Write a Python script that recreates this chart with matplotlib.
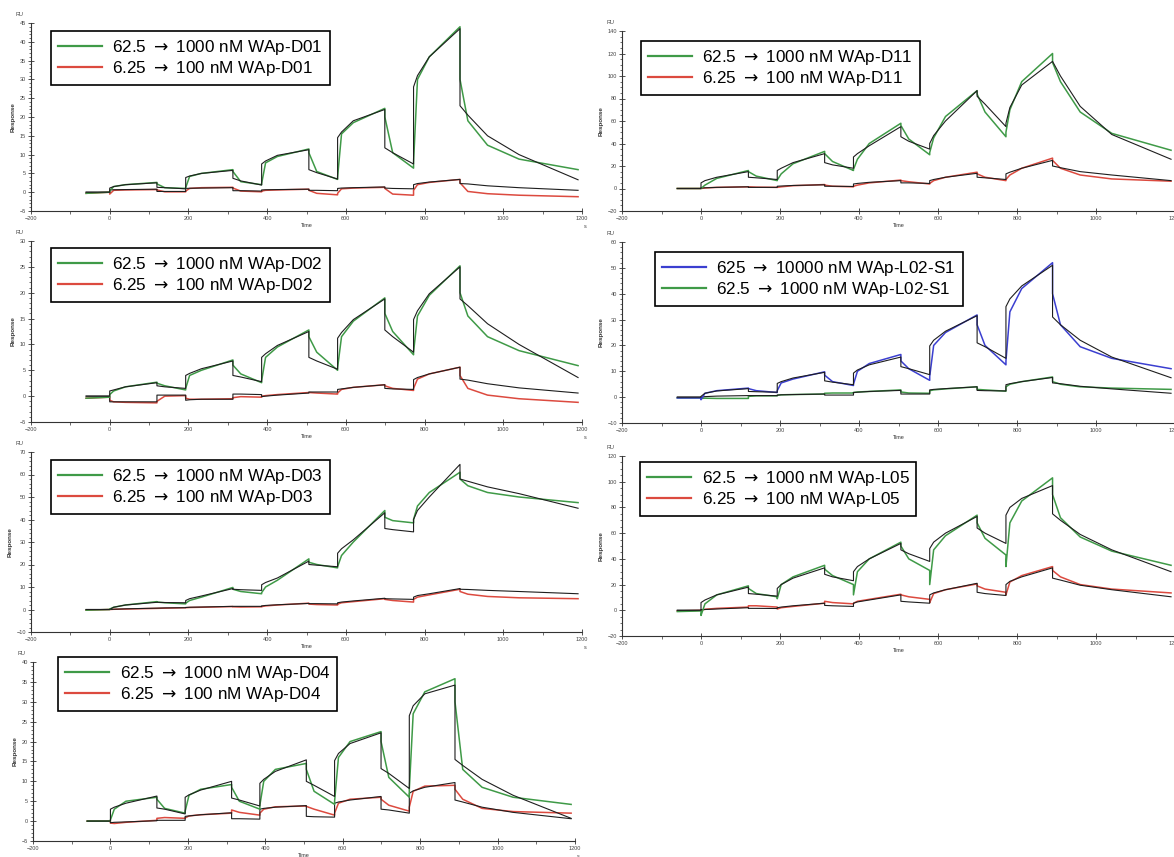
import matplotlib.pyplot as plt
from matplotlib.lines import Line2D
from matplotlib.ticker import MultipleLocator

plt.rcParams['font.family'] = ['Liberation Sans', 'DejaVu Sans']
plt.rcParams['mathtext.fontset'] = 'dejavusans'

# Shared time base (s) for every single-cycle sensorgram.
# Repeated times mark the injection start / stop steps.
TIME = [-60,
        0, 0, 10, 40, 120, 120, 140,
        193, 193, 203, 233, 313, 313, 333,
        386, 386, 396, 426, 506, 506, 526,
        579, 579, 589, 619, 699, 699, 719,
        772, 772, 782, 812, 890, 890, 910, 960, 1040, 1190]

# WAp-D01
D01_HI = [-0.3,
          0.0, 0.3, 1.5, 2.0, 2.6, 2.2, 1.2,
          1.0, 1.2, 4.2, 5.0, 6.0, 5.5, 2.8,
          2.0, 2.3, 7.8, 9.5, 11.5, 10.5, 5.5,
          3.4, 4.0, 15.5, 18.5, 22.3, 20.0, 10.5,
          6.4, 8.0, 30.0, 36.0, 44.0, 30.0, 19.0, 12.5, 8.8, 6.0]
D01_HI_FIT = [0.0,
              0.0, 1.1, 1.5, 2.0, 2.5, 1.3, 1.2,
              0.9, 3.9, 4.3, 5.0, 5.8, 3.7, 3.0,
              1.9, 7.5, 8.3, 9.8, 11.3, 6.0, 5.2,
              3.5, 14.5, 16.0, 19.0, 22.0, 11.8, 10.5,
              7.5, 28.0, 31.0, 36.0, 43.5, 23.0, 20.5, 15.0, 10.0, 3.3]
D01_LO = [-0.3,
          0.0, -0.5, 0.5, 0.6, 0.7, 0.6, 0.1,
          0.1, 0.3, 1.0, 1.2, 1.3, 1.1, 0.3,
          0.1, 0.3, 0.5, 0.6, 0.8, 0.5, -0.3,
          -0.7, -0.3, 0.9, 1.1, 1.3, 1.0, -0.5,
          -0.8, 0.5, 2.0, 2.6, 3.4, 2.5, 0.2, -0.4, -0.8, -1.2]
D01_LO_FIT = [0.0,
              0.0, 0.6, 0.65, 0.7, 0.8, 0.2, 0.2,
              0.2, 1.0, 1.05, 1.1, 1.2, 0.4, 0.4,
              0.3, 0.6, 0.65, 0.7, 0.8, 0.5, 0.5,
              0.4, 1.0, 1.1, 1.2, 1.4, 1.1, 1.0,
              0.9, 2.0, 2.3, 2.7, 3.4, 2.3, 2.2, 1.7, 1.2, 0.5]

# WAp-D11
D11_HI = [0.0,
          0.0, 0.0, 3.0, 9.0, 16.0, 15.0, 11.0,
          7.0, 7.5, 13.0, 22.0, 33.0, 31.0, 24.0,
          16.0, 17.0, 26.0, 40.0, 58.0, 56.0, 44.0,
          30.0, 32.0, 45.0, 64.0, 87.0, 84.0, 68.0,
          46.0, 50.0, 70.0, 95.0, 120.0, 112.0, 95.0, 68.0, 49.0, 34.0]
D11_HI_FIT = [0.0,
              0.0, 5.0, 7.0, 10.0, 15.0, 10.0, 9.5,
              8.0, 16.0, 18.0, 23.0, 31.0, 23.0, 21.0,
              18.0, 28.0, 31.0, 38.0, 55.0, 46.0, 42.0,
              35.0, 40.0, 47.0, 60.0, 87.0, 82.0, 75.0,
              55.0, 58.0, 72.0, 92.0, 113.0, 113.0, 100.0, 73.0, 48.0, 26.0]
D11_LO = [0.0,
          0.0, 0.0, 0.5, 1.0, 1.5, 1.5, 1.2,
          1.0, 1.0, 1.5, 2.5, 3.5, 3.0, 2.0,
          1.5, 2.0, 3.0, 5.0, 7.5, 7.0, 6.0,
          4.0, 4.5, 7.0, 10.0, 14.5, 13.0, 10.0,
          7.0, 8.0, 12.0, 18.0, 27.0, 25.0, 18.0, 12.0, 8.5, 6.5]
D11_LO_FIT = [0.0,
              0.0, 0.5, 0.6, 1.0, 1.5, 1.0, 1.0,
              1.0, 2.0, 2.2, 2.7, 3.3, 2.0, 2.0,
              1.8, 4.0, 4.5, 5.5, 7.0, 5.0, 5.0,
              4.5, 7.0, 8.0, 10.0, 13.5, 10.0, 9.5,
              8.0, 13.0, 14.5, 18.0, 25.0, 20.0, 18.5, 15.0, 12.0, 7.0]

# WAp-D02
D02_HI = [-0.4,
          -0.2, 0.3, 1.0, 1.8, 2.7, 2.5, 2.0,
          1.2, 1.5, 4.0, 5.0, 7.0, 6.0, 4.3,
          2.6, 3.0, 7.5, 9.5, 12.8, 11.5, 8.5,
          5.0, 5.5, 11.5, 14.5, 19.0, 16.0, 12.5,
          8.0, 8.5, 15.5, 19.5, 25.2, 20.0, 15.5, 11.5, 8.8, 5.9]
D02_HI_FIT = [0.0,
              0.0, 1.0, 1.2, 1.8, 2.6, 2.0, 1.8,
              1.5, 4.0, 4.4, 5.3, 6.8, 4.0, 3.7,
              2.8, 7.5, 8.2, 9.8, 12.5, 7.5, 6.8,
              5.2, 11.2, 12.3, 14.8, 18.8, 12.8, 11.5,
              8.5, 14.8, 16.5, 19.8, 25.0, 18.8, 17.5, 14.0, 10.0, 3.6]
D02_LO = [-0.4,
          -0.2, -0.8, -1.1, -1.2, -1.3, -1.0, 0.0,
          0.1, -0.4, -0.6, -0.6, -0.5, -0.3, -0.1,
          -0.2, 0.0, 0.1, 0.3, 0.7, 0.7, 0.6,
          0.4, 0.6, 1.3, 1.7, 2.2, 2.0, 1.5,
          1.1, 1.5, 3.3, 4.3, 5.6, 4.0, 1.5, 0.2, -0.5, -1.2]
D02_LO_FIT = [0.0,
              0.0, -1.1, -1.1, -1.1, -1.1, 0.2, 0.2,
              0.2, -0.8, -0.7, -0.6, -0.6, 0.4, 0.4,
              0.3, -0.1, 0.0, 0.2, 0.6, 0.8, 0.8,
              0.8, 1.3, 1.4, 1.7, 2.2, 1.5, 1.4,
              1.3, 3.2, 3.6, 4.3, 5.6, 3.3, 3.1, 2.4, 1.6, 0.6]

# WAp-L02-S1
L02_HI = [-0.3,
          -0.3, -1.0, 1.5, 2.5, 3.5, 3.3, 2.5,
          1.8, 2.5, 5.5, 7.0, 9.8, 8.5, 6.0,
          4.5, 5.0, 10.0, 13.0, 16.5, 14.0, 11.0,
          6.5, 8.0, 20.0, 25.0, 31.8, 28.0, 20.0,
          12.5, 14.0, 33.0, 42.0, 52.0, 40.0, 28.0, 19.5, 15.0, 11.0]
L02_HI_FIT = [0.0,
              0.0, 0.3, 1.5, 2.4, 3.3, 2.2, 2.1,
              1.9, 5.3, 6.0, 7.4, 9.6, 6.3, 5.8,
              4.8, 9.3, 10.5, 12.5, 15.5, 11.8, 11.0,
              8.7, 19.8, 22.0, 25.5, 31.5, 21.0, 19.5,
              15.0, 35.0, 38.0, 43.0, 51.0, 31.0, 28.0, 22.0, 15.5, 7.5]
L02_LO = [-0.3,
          -0.3, -0.5, -0.4, -0.5, -0.5, 0.3, 0.5,
          0.5, 0.7, 0.9, 1.0, 1.2, 1.5, 1.6,
          1.6, 1.8, 2.0, 2.2, 2.8, 2.0, 1.6,
          1.5, 2.5, 2.8, 3.2, 4.0, 3.0, 2.8,
          2.3, 4.0, 5.0, 6.0, 7.8, 6.0, 5.0, 4.0, 3.5, 3.0]
L02_LO_FIT = [0.0,
              0.0, 0.0, 0.2, 0.4, 0.6, 0.6, 0.6,
              0.6, 0.8, 0.9, 1.0, 1.2, 0.8, 0.8,
              0.8, 1.8, 1.9, 2.2, 2.6, 1.2, 1.2,
              1.2, 2.8, 3.0, 3.3, 4.0, 2.6, 2.5,
              2.4, 4.8, 5.2, 6.0, 7.6, 5.5, 5.2, 4.2, 3.2, 1.5]

# WAp-D03
D03_HI = [-0.3,
          0.0, 0.2, 1.0, 2.0, 3.5, 3.3, 3.0,
          2.5, 2.8, 4.0, 5.5, 9.8, 9.0, 8.0,
          7.0, 7.5, 10.0, 13.0, 22.5, 21.0, 20.0,
          18.5, 19.0, 24.0, 30.0, 44.0, 41.0, 39.5,
          38.5, 40.0, 46.0, 52.0, 61.0, 58.0, 55.0, 52.0, 50.0, 47.5]
D03_HI_FIT = [0.0,
              0.0, 0.0, 1.0, 2.0, 3.2, 3.2, 3.1,
              3.0, 4.0, 4.8, 6.0, 9.3, 9.0, 8.8,
              8.5, 11.0, 12.0, 14.0, 21.5, 20.0, 19.7,
              19.0, 25.0, 27.0, 31.0, 43.0, 36.0, 35.5,
              34.5, 40.0, 44.0, 50.0, 64.5, 58.0, 57.0, 54.5, 51.5, 45.0]
D03_LO = [-0.3,
          0.0, 0.0, 0.1, 0.2, 0.5, 0.5, 0.6,
          0.8, 0.8, 0.9, 1.0, 1.3, 1.2, 1.1,
          1.2, 1.3, 1.6, 2.0, 2.8, 2.4, 2.2,
          2.0, 2.4, 3.0, 3.5, 4.8, 4.5, 4.0,
          3.3, 4.5, 5.5, 6.5, 9.0, 8.0, 6.8, 5.8, 5.2, 4.8]
D03_LO_FIT = [0.0,
              0.0, 0.0, 0.1, 0.3, 0.6, 0.6, 0.7,
              0.8, 0.9, 1.0, 1.1, 1.4, 1.4, 1.4,
              1.4, 1.6, 1.8, 2.1, 2.7, 2.6, 2.6,
              2.5, 3.0, 3.3, 3.8, 5.0, 4.8, 4.7,
              4.5, 5.5, 6.2, 7.0, 9.3, 9.0, 8.9, 8.5, 8.0, 7.0]

# WAp-L05
L05_HI = [-1.0,
          -0.5, -4.0, 5.0, 12.0, 19.0, 17.0, 13.0,
          10.5, 9.0, 20.0, 26.0, 35.0, 32.0, 27.0,
          20.0, 12.0, 30.0, 40.0, 53.0, 50.0, 40.0,
          31.0, 20.0, 47.0, 58.0, 74.0, 68.0, 56.0,
          43.0, 34.0, 68.0, 85.0, 103.0, 90.0, 72.0, 57.0, 46.0, 35.0]
L05_HI_FIT = [0.0,
              0.0, 6.0, 8.0, 12.0, 18.0, 13.0, 12.5,
              11.0, 17.0, 20.0, 25.0, 33.0, 28.0, 26.0,
              23.0, 30.0, 34.0, 40.0, 52.0, 47.0, 44.0,
              38.0, 48.0, 53.0, 60.0, 73.0, 64.0, 60.0,
              52.0, 74.0, 80.0, 87.0, 97.0, 75.0, 70.0, 59.0, 47.0, 30.0]
L05_LO = [-0.5,
          0.0, 0.0, 0.8, 1.5, 2.5, 3.5, 3.5,
          2.5, 1.0, 2.0, 3.0, 5.5, 7.0, 6.0,
          5.0, 5.5, 7.0, 8.5, 12.5, 12.0, 10.5,
          8.5, 6.0, 13.0, 16.0, 20.5, 19.0, 16.5,
          14.0, 12.0, 22.0, 27.0, 34.0, 31.0, 26.0, 20.0, 16.5, 13.5]
L05_LO_FIT = [0.0,
              0.0, 0.5, 0.6, 1.0, 2.0, 1.5, 1.5,
              1.4, 2.0, 2.5, 3.5, 5.5, 3.8, 3.5,
              3.0, 5.5, 6.5, 8.0, 12.0, 7.0, 6.5,
              5.5, 12.0, 13.5, 16.0, 21.0, 14.0, 13.0,
              11.5, 20.0, 22.5, 26.0, 33.0, 25.0, 23.5, 19.5, 16.0, 10.5]

# WAp-D04
D04_HI = [0.0,
          0.0, 0.3, 3.0, 5.0, 6.0, 5.5, 3.2,
          2.0, 2.5, 6.5, 8.0, 9.2, 8.5, 5.0,
          3.0, 4.0, 10.0, 13.0, 14.5, 13.0, 7.5,
          4.2, 5.0, 16.0, 20.0, 22.5, 20.0, 11.0,
          6.0, 8.0, 27.0, 32.5, 35.8, 30.0, 13.0, 8.5, 6.0, 4.2]
D04_HI_FIT = [0.0,
              0.0, 3.0, 3.5, 4.5, 6.3, 3.3, 3.0,
              1.8, 6.0, 6.6, 7.8, 10.0, 5.8, 5.3,
              3.8, 9.5, 10.5, 12.5, 15.4, 10.0, 9.0,
              6.2, 15.2, 17.0, 19.5, 22.2, 13.2, 12.0,
              8.2, 26.5, 29.0, 32.0, 34.2, 15.5, 14.0, 10.5, 6.5, 0.7]
D04_LO = [0.0,
          0.0, -0.5, -0.6, -0.3, 0.2, 0.7, 0.9,
          0.7, 0.8, 1.3, 1.6, 2.0, 2.8, 2.2,
          1.5, 2.0, 3.0, 3.6, 3.8, 3.7, 3.0,
          1.5, 2.0, 4.5, 5.5, 6.0, 5.5, 4.0,
          2.5, 3.5, 7.5, 8.8, 9.0, 8.0, 5.5, 3.2, 2.4, 2.0]
D04_LO_FIT = [0.0,
              0.0, -0.4, -0.3, -0.2, 0.1, 0.2, 0.2,
              0.2, 1.2, 1.3, 1.6, 2.1, 0.6, 0.6,
              0.5, 3.0, 3.2, 3.5, 3.9, 1.2, 1.1,
              1.0, 4.5, 4.8, 5.3, 6.2, 3.0, 2.8,
              2.0, 7.0, 7.6, 8.5, 9.7, 5.3, 4.8, 3.5, 2.2, 0.6]

GREEN = '#3f9a47'
RED = '#dc4a3f'
BLUE = '#3b3fd0'
FIT = '#1e1e1e'

ARROW = r'$\rightarrow$'

W, H = 1174, 857

# axes box (left, top, right, bottom) and legend corner, in pixels
panels = [
    dict(hi=D01_HI, hi_fit=D01_HI_FIT, lo=D01_LO, lo_fit=D01_LO_FIT,
         labels=[f'62.5 {ARROW} 1000 nM WAp-D01', f'6.25 {ARROW} 100 nM WAp-D01'],
         colors=(GREEN, RED), ylim=(-5, 45), major=5, minor=1,
         box=(31, 23, 582, 211), legend=(51, 31), unit=True),
    dict(hi=D11_HI, hi_fit=D11_HI_FIT, lo=D11_LO, lo_fit=D11_LO_FIT,
         labels=[f'62.5 {ARROW} 1000 nM WAp-D11', f'6.25 {ARROW} 100 nM WAp-D11'],
         colors=(GREEN, RED), ylim=(-20, 140), major=20, minor=5,
         box=(622, 31, 1175, 211), legend=(641, 41), unit=False),
    dict(hi=D02_HI, hi_fit=D02_HI_FIT, lo=D02_LO, lo_fit=D02_LO_FIT,
         labels=[f'62.5 {ARROW} 1000 nM WAp-D02', f'6.25 {ARROW} 100 nM WAp-D02'],
         colors=(GREEN, RED), ylim=(-5, 30), major=5, minor=1,
         box=(31, 241, 582, 422), legend=(51, 248), unit=True),
    dict(hi=L02_HI, hi_fit=L02_HI_FIT, lo=L02_LO, lo_fit=L02_LO_FIT,
         labels=[f'625 {ARROW} 10000 nM WAp-L02-S1', f'62.5 {ARROW} 1000 nM WAp-L02-S1'],
         colors=(BLUE, GREEN), ylim=(-10, 60), major=10, minor=2,
         box=(622, 242, 1175, 423), legend=(655, 252), unit=False),
    dict(hi=D03_HI, hi_fit=D03_HI_FIT, lo=D03_LO, lo_fit=D03_LO_FIT,
         labels=[f'62.5 {ARROW} 1000 nM WAp-D03', f'6.25 {ARROW} 100 nM WAp-D03'],
         colors=(GREEN, RED), ylim=(-10, 70), major=10, minor=2,
         box=(31, 452, 582, 632), legend=(51, 460), unit=True),
    dict(hi=L05_HI, hi_fit=L05_HI_FIT, lo=L05_LO, lo_fit=L05_LO_FIT,
         labels=[f'62.5 {ARROW} 1000 nM WAp-L05', f'6.25 {ARROW} 100 nM WAp-L05'],
         colors=(GREEN, RED), ylim=(-20, 120), major=20, minor=5,
         box=(622, 456, 1175, 636), legend=(640, 462), unit=False),
    dict(hi=D04_HI, hi_fit=D04_HI_FIT, lo=D04_LO, lo_fit=D04_LO_FIT,
         labels=[f'62.5 {ARROW} 1000 nM WAp-D04', f'6.25 {ARROW} 100 nM WAp-D04'],
         colors=(GREEN, RED), ylim=(-5, 40), major=5, minor=1,
         box=(33, 662, 575, 841), legend=(58, 657), unit=True),
]


def draw_panel(fig, p):
    x0, y0, x1, y1 = p['box']
    ax = fig.add_axes([x0 / W, 1 - y1 / H, (x1 - x0) / W, (y1 - y0) / H])
    hi_col, lo_col = p['colors']

    ax.plot(TIME, p['lo'], color=lo_col, lw=1.1)
    ax.plot(TIME, p['lo_fit'], color=FIT, lw=0.8)
    ax.plot(TIME, p['hi'], color=hi_col, lw=1.1)
    ax.plot(TIME, p['hi_fit'], color=FIT, lw=0.8)

    ax.set_xlim(-200, 1200)
    ax.set_ylim(*p['ylim'])
    ax.xaxis.set_major_locator(MultipleLocator(200))
    ax.xaxis.set_minor_locator(MultipleLocator(100))
    ax.yaxis.set_major_locator(MultipleLocator(p['major']))
    ax.yaxis.set_minor_locator(MultipleLocator(p['minor']))
    for side in ('top', 'right'):
        ax.spines[side].set_visible(False)
    for side in ('left', 'bottom'):
        ax.spines[side].set_linewidth(0.8)
        ax.spines[side].set_color('#333333')
    ax.tick_params(which='major', direction='inout', length=4, width=0.6,
                   labelsize=4, pad=1.5, color='#333333', labelcolor='#444444')
    ax.tick_params(which='minor', direction='out', length=1.8, width=0.5,
                   color='#333333')
    ax.patch.set_alpha(0)

    ax.set_xlabel('Time', fontsize=4, labelpad=1.5, color='#333333')
    ax.set_ylabel('Response', fontsize=4.5, fontweight='bold', labelpad=3,
                  color='#333333')
    ax.annotate('RU', xy=(0, 1), xycoords='axes fraction', xytext=(-11, 5),
                textcoords='offset points', fontsize=4, color='#444444')
    # time unit sits past the right end of the axis; only the left column has room
    if p['unit']:
        ax.annotate('s', xy=(1, 0), xycoords='axes fraction', xytext=(1, -12),
                    textcoords='offset points', fontsize=4, color='#444444')

    handles = [Line2D([], [], color=hi_col, lw=1.6),
               Line2D([], [], color=lo_col, lw=1.6)]
    lx, ly = p['legend']
    leg = ax.legend(handles, p['labels'], loc='upper left',
                    bbox_to_anchor=(lx / W, 1 - ly / H),
                    bbox_transform=fig.transFigure, borderaxespad=0,
                    fontsize=12.3, frameon=True, fancybox=False,
                    edgecolor='black', framealpha=1, borderpad=0.4,
                    handlelength=2.6, handletextpad=0.6, labelspacing=0.12)
    leg.get_frame().set_linewidth(1.2)
    return ax


fig = plt.figure(figsize=(W / 100, H / 100), dpi=100)
for p in panels:
    draw_panel(fig, p)

fig.savefig('out.png', dpi=100)
